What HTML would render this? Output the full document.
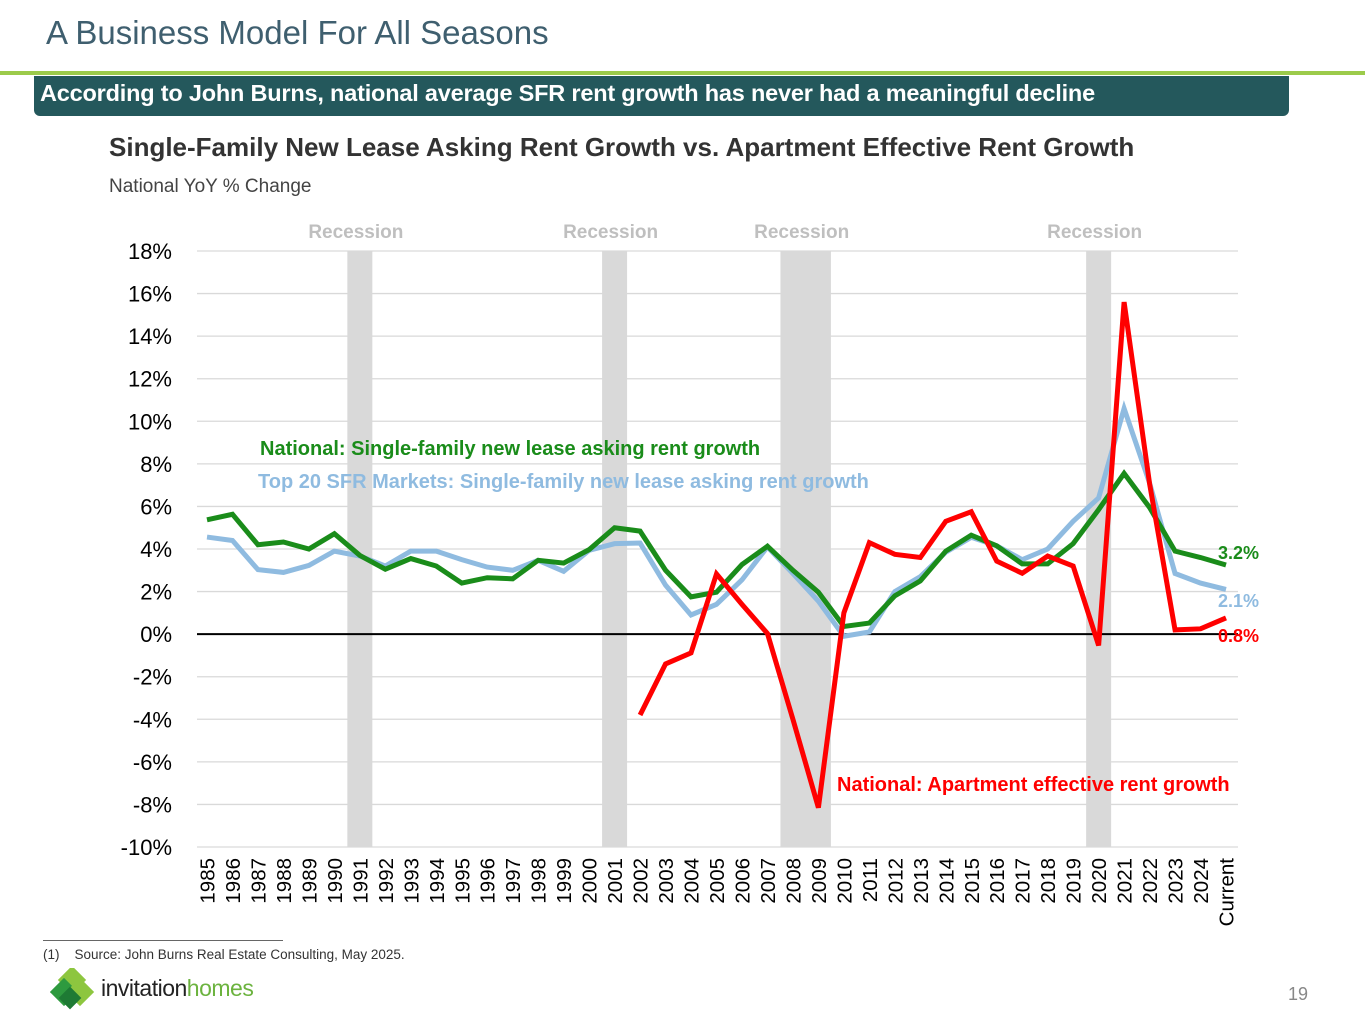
<!DOCTYPE html>
<html><head><meta charset="utf-8"><style>
body{margin:0;width:1365px;height:1024px;background:#fff;font-family:"Liberation Sans",sans-serif;position:relative;overflow:hidden}
.a{position:absolute;white-space:nowrap}
</style></head><body>
<div class="a" style="left:46px;top:14px;font-size:33px;color:#3f5f6f;font-weight:300">A Business Model For All Seasons</div>
<div class="a" style="left:0;top:71px;width:1365px;height:4px;background:#9ccb4b"></div>
<div class="a" style="left:34px;top:76px;width:1255px;height:40px;background:#24585c;border-radius:0 0 6px 6px"></div>
<div class="a" style="left:40px;top:80px;font-size:23.5px;font-weight:bold;color:#fff;letter-spacing:-0.2px">According to John Burns, national average SFR rent growth has never had a meaningful decline</div>
<div class="a" style="left:109px;top:132px;font-size:26px;font-weight:bold;color:#333">Single-Family New Lease Asking Rent Growth vs. Apartment Effective Rent Growth</div>
<div class="a" style="left:109px;top:176px;font-size:19px;color:#444">National YoY % Change</div>
<svg class="a" style="left:0;top:0" width="1365" height="1024" id="chart"></svg>
<div class="a" style="left:43px;top:940px;width:240px;height:1px;background:#666"></div>
<div class="a" style="left:43px;top:947px;font-size:13.5px;color:#333">(1)&nbsp;&nbsp;&nbsp; Source: John Burns Real Estate Consulting, May 2025.</div>
<svg class="a" style="left:50px;top:968px" width="46" height="44">
<rect x="12" y="2" width="20" height="20" transform="rotate(45 22 12)" fill="#8dc63f"/>
<rect x="4" y="14" width="20" height="20" transform="rotate(45 14 24)" fill="#2e9a3f"/>
<rect x="20" y="14" width="20" height="20" transform="rotate(45 30 24)" fill="#8dc63f"/>
<rect x="12" y="22" width="16" height="16" transform="rotate(45 20 30)" fill="#1e7a34"/>
</svg>
<div class="a" style="left:101px;top:975px;font-size:23px;color:#222;letter-spacing:-0.5px">invitation<span style="color:#6cb33f">homes</span></div>
<div class="a" style="left:1288px;top:984px;font-size:18px;color:#888">19</div>
<script>
const categories=["1985","1986","1987","1988","1989","1990","1991","1992","1993","1994","1995","1996","1997","1998","1999","2000","2001","2002","2003","2004","2005","2006","2007","2008","2009","2010","2011","2012","2013","2014","2015","2016","2017","2018","2019","2020","2021","2022","2023","2024","Current"];
const nationalSF=[5.37,5.63,4.2,4.33,4.0,4.72,3.7,3.05,3.55,3.2,2.4,2.65,2.6,3.47,3.34,3.97,5.0,4.84,3.0,1.75,1.97,3.27,4.13,3.0,1.97,0.36,0.52,1.8,2.5,3.9,4.65,4.15,3.3,3.3,4.25,5.85,7.55,5.95,3.9,3.6,3.25];
const top20SF=[4.56,4.4,3.03,2.9,3.23,3.9,3.67,3.2,3.9,3.9,3.5,3.15,3.0,3.47,2.95,3.94,4.25,4.28,2.3,0.9,1.4,2.55,4.1,2.85,1.55,-0.1,0.1,2.0,2.7,3.85,4.55,4.15,3.5,4.0,5.3,6.4,10.6,7.1,2.85,2.4,2.1];
const apartment=[null,null,null,null,null,null,null,null,null,null,null,null,null,null,null,null,null,-3.8,-1.4,-0.88,2.83,1.4,0.03,-4.0,-8.15,1.0,4.3,3.75,3.6,5.3,5.75,3.43,2.86,3.67,3.2,-0.53,15.6,7.07,0.2,0.25,0.76];
const yTicks=[18,16,14,12,10,8,6,4,2,0,-2,-4,-6,-8,-10];
const recessions=[["1991","1991"],["2001","2001"],["2008","2009"],["2020","2020"]];
const endLabels=["3.2%","2.1%","0.8%"];
const NS="http://www.w3.org/2000/svg";
const svg=document.getElementById('chart');
const X0=207,DX=25.475,Y18=251,Y10=847;
function x(i){return X0+i*DX}
function y(v){return Y18+(18-v)*(Y10-Y18)/28}
function mk(t,a,parent){const e=document.createElementNS(NS,t);for(const k in a)e.setAttribute(k,a[k]);(parent||svg).appendChild(e);return e}
recessions.forEach(r=>{const i0=categories.indexOf(r[0]),i1=categories.indexOf(r[1]);
const e=mk('rect',{x:x(i0)-12.5,y:251,width:x(i1)-x(i0)+25,height:596,fill:'#d9d9d9'});


const t=mk('text',{x:(x(i0)+x(i1))/2-4,y:238,'text-anchor':'middle','font-size':19,'font-weight':'bold',fill:'#bfbfbf'});
t.textContent='Recession';


});
yTicks.forEach(v=>{
const g=mk('line',{x1:197,x2:1238,y1:y(v),y2:y(v),stroke:v===0?'#000':'#d9d9d9','stroke-width':v===0?2:1.3});


const t=mk('text',{x:172,y:y(v)+8,'text-anchor':'end','font-size':22,fill:'#000'});
t.textContent=v+'%';


});
categories.forEach((c,i)=>{
const t=mk('text',{transform:`translate(${x(i)+7.5},858) rotate(-90)`,'text-anchor':'end','font-size':20.5,fill:'#000'});
t.textContent=c;


});
function line(data,color,name){let d='';data.forEach((v,i)=>{if(v===null)return;d+=(d?'L':'M')+x(i)+','+y(v)});
const p=mk('path',{d:d,fill:'none',stroke:color,'stroke-width':5,'stroke-linejoin':'miter'});

}
line(top20SF,'#8fbbe0','top20-sf-line');
line(nationalSF,'#1a8c1a','national-sf-line');
line(apartment,'#ff0000','apartment-line');
function lab(txt,xx,yy,col,name,fs){const t=mk('text',{x:xx,y:yy,'font-size':fs||20,'font-weight':'bold',fill:col});t.textContent=txt;

}
lab('National: Single-family new lease asking rent growth',260,455,'#1a8c1a','legend-national-sf');
lab('Top 20 SFR Markets: Single-family new lease asking rent growth',258,488,'#8fbbe0','legend-top20-sf');
lab('National: Apartment effective rent growth',837,791,'#ff0000','legend-apartment');
lab(endLabels[0],1218,559,'#1a8c1a','end-label-national-sf',18);
lab(endLabels[1],1218,607,'#8fbbe0','end-label-top20-sf',18);
lab(endLabels[2],1218,642,'#ff0000','end-label-apartment',18);
</script>
</body></html>
